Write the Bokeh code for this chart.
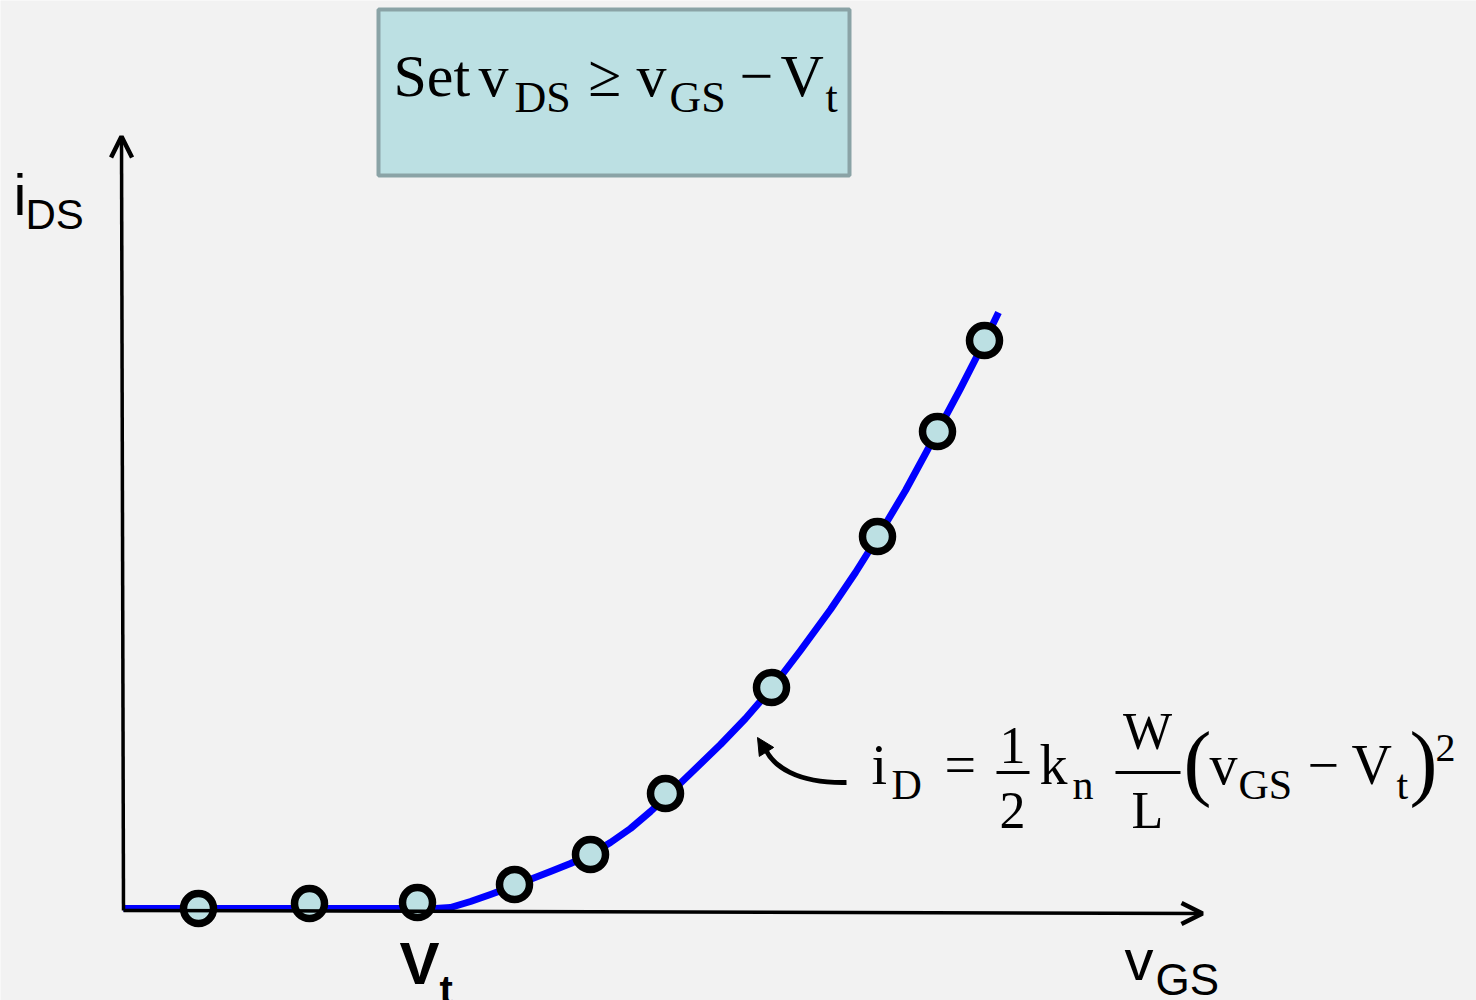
from bokeh.plotting import figure
from bokeh.models import Range1d, Label, BoxAnnotation, Arrow, OpenHead, NormalHead
from bokeh.embed import file_html
from bokeh.resources import INLINE

# Transfer characteristic of an n-channel MOSFET held in saturation
# (gate voltage in volts, drain current in arbitrary units)
curve_vgs = [0.0, 3.12, 3.27, 3.47, 3.67, 3.91, 4.27, 4.47, 4.67, 4.87, 5.07, 5.27, 5.42,
             5.67, 5.97, 6.22, 6.48, 6.77, 7.07, 7.32, 7.54, 7.82, 8.14, 8.37, 8.61, 8.75]
curve_ids = [0.0, 0.0, 0.01, 0.07, 0.14, 0.23, 0.37, 0.45, 0.54, 0.66, 0.80, 0.97, 1.11,
             1.35, 1.64, 1.90, 2.20, 2.58, 2.99, 3.36, 3.71, 4.18, 4.77, 5.20, 5.67, 5.96]

# Measured operating points along the curve
meas_vgs = [0.75, 1.86, 2.94, 3.91, 4.67, 5.42, 6.48, 7.54, 8.14, 8.61]
meas_ids = [0.00, 0.05, 0.06, 0.24, 0.54, 1.15, 2.21, 3.72, 4.77, 5.68]

W, H = 1476, 1000
OX, OY, SCALE = 123, 908, 100.0  # canvas origin of the axes and pixels per unit


def X(px):
    return (px - OX) / SCALE


def Y(py):
    return (OY - py) / SCALE


BG = "#f2f2f2"
p = figure(width=W, height=H, output_backend="svg", toolbar_location=None,
           x_range=Range1d(X(0), X(W)), y_range=Range1d(Y(H), Y(0)),
           x_axis_location=None, y_axis_location=None, min_border=0,
           background_fill_color=BG, border_fill_color=BG, outline_line_color=None)
p.grid.visible = False

# Axes with open arrow heads
p.add_layout(Arrow(x_start=X(123), y_start=Y(910), x_end=X(121), y_end=Y(136),
                   line_width=3.5, line_color="black",
                   end=OpenHead(size=21, line_width=4.5, line_color="black")))
p.add_layout(Arrow(x_start=X(123), y_start=Y(910), x_end=X(1202), y_end=Y(913),
                   line_width=3.5, line_color="black",
                   end=OpenHead(size=21, line_width=4.5, line_color="black")))

# Characteristic curve and measured points
p.line(curve_vgs, curve_ids, line_color="#0000ff", line_width=7,
       line_join="round")
p.scatter(meas_vgs, meas_ids, size=30, fill_color="#bce0e3",
          line_color="black", line_width=7.5)

SERIF = "Liberation Serif"
SANS = "Liberation Sans"
DROP = 0.37  # label anchor sits this fraction of the font size below the baseline


def txt(s, px, py, size, font=SERIF, style="normal", align="left"):
    p.add_layout(Label(x=X(px), y=Y(py - DROP * size), text=s, text_font=font,
                       text_font_size=f"{size}px", text_font_style=style,
                       text_color="black", text_align=align,
                       text_baseline="alphabetic"))


# Saturation condition box
p.add_layout(BoxAnnotation(left=X(378), right=X(849), top=Y(9), bottom=Y(175),
                           fill_color="#bce0e3", fill_alpha=1.0,
                           line_color="#8aa3a6", line_alpha=1.0, line_width=4))
txt("Set", 393, 98, 60)
txt("v", 478, 98, 60)
txt("DS", 514, 113, 44)
txt("\u2265", 588, 98, 60)
txt("v", 636, 98, 60)
txt("GS", 669, 113, 44)
txt("\u2212", 739, 98, 60)
txt("V", 780, 98, 60)
txt("t", 825, 113, 44)

# Axis labels
txt("i", 13, 215, 58, SANS)
txt("DS", 25, 230, 42, SANS)
txt("v", 1124, 980, 58, SANS)
txt("GS", 1155, 995, 44, SANS)
txt("V", 399, 985, 60, SANS, "bold")
txt("t", 439, 1004, 40, SANS, "bold")

# Square-law equation
txt("i", 871, 785, 56)
txt("D", 891, 800, 42)
txt("=", 944, 785, 56)
txt("1", 1012, 764, 52, align="center")
p.add_layout(BoxAnnotation(left=X(996), right=X(1029), top=Y(770.5), bottom=Y(773.5),
                           fill_color="black", fill_alpha=1.0, line_color=None))
txt("2", 1012, 829, 52, align="center")
txt("k", 1039, 785, 56)
txt("n", 1072, 800, 42)
txt("W", 1147, 750, 52, align="center")
p.add_layout(BoxAnnotation(left=X(1115), right=X(1180), top=Y(770.5), bottom=Y(773.5),
                           fill_color="black", fill_alpha=1.0, line_color=None))
txt("L", 1147, 829, 52, align="center")
txt("(", 1183, 792, 84)
txt("v", 1209, 785, 56)
txt("GS", 1238, 800, 42)
txt("\u2212", 1307, 785, 56)
txt("V", 1351, 785, 56)
txt("t", 1396, 800, 42)
txt(")", 1409, 792, 84)
txt("2", 1435, 762, 40)

# Curved pointer from the equation to the curve
p.bezier(x0=[X(846)], y0=[Y(782)], x1=[X(765)], y1=[Y(749)],
         cx0=[X(795)], cy0=[Y(783)], cx1=[X(773)], cy1=[Y(765)],
         line_color="black", line_width=5)
p.add_layout(Arrow(x_start=X(767), y_start=Y(753), x_end=X(757), y_end=Y(737),
                   line_width=0.1, line_color="black",
                   end=NormalHead(size=17, fill_color="black", line_color="black",
                                  line_width=1)))

open("out.html", "w").write(file_html(p, INLINE))
